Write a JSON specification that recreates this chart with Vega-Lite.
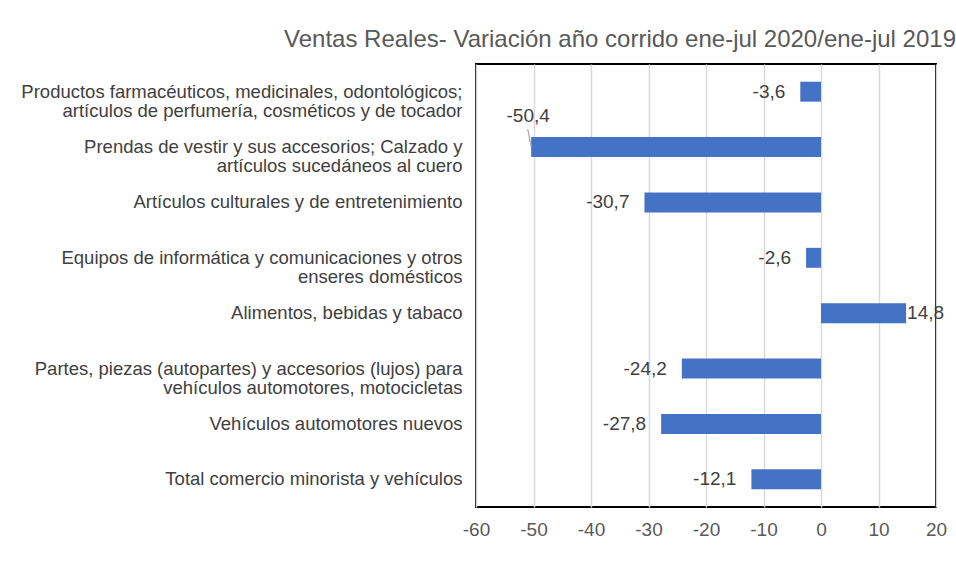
{
  "$schema": "https://vega.github.io/schema/vega-lite/v6.json",
  "width": 460,
  "height": 443,
  "autosize": {"type": "none"},
  "padding": {"left": 476, "top": 64, "right": 20, "bottom": 69},
  "background": "white",
  "title": {
    "text": "Ventas Reales- Variación año corrido ene-jul 2020/ene-jul 2019",
    "anchor": "start",
    "frame": "group",
    "dx": -192,
    "offset": 12,
    "font": "Liberation Sans",
    "fontSize": 24,
    "fontWeight": "normal",
    "color": "#595959"
  },
  "config": {
    "locale": {"number": {"decimal": ",", "thousands": ".", "grouping": [3], "currency": ["", ""], "minus": "-"}},
    "view": {"stroke": "#000000", "strokeWidth": 2},
    "font": "Liberation Sans"
  },
  "data": {
    "values": [
      {"cat": "Productos farmacéuticos, medicinales, odontológicos;|artículos de perfumería, cosméticos y de tocador", "value": -3.6},
      {"cat": "Prendas de vestir y sus accesorios; Calzado y|artículos sucedáneos al cuero", "value": -50.4},
      {"cat": "Artículos culturales y de entretenimiento", "value": -30.7},
      {"cat": "Equipos de informática y comunicaciones  y otros|enseres domésticos", "value": -2.6},
      {"cat": "Alimentos, bebidas y tabaco", "value": 14.8},
      {"cat": "Partes, piezas (autopartes) y accesorios (lujos) para|vehículos automotores, motocicletas", "value": -24.2},
      {"cat": "Vehículos automotores nuevos", "value": -27.8},
      {"cat": "Total comercio minorista y vehículos", "value": -12.1}
    ]
  },
  "encoding": {
    "y": {
      "field": "cat",
      "type": "nominal",
      "sort": null,
      "scale": {"paddingInner": 0.64, "paddingOuter": 0.32},
      "axis": {
        "title": null,
        "ticks": false,
        "domain": false,
        "labelExpr": "split(datum.label, '|')",
        "labelFontSize": 18.5,
        "labelLineHeight": 19,
        "labelColor": "#404040",
        "labelPadding": 14,
        "labelLimit": 480
      }
    },
    "x": {
      "field": "value",
      "type": "quantitative",
      "scale": {"domain": [-60, 20], "nice": false},
      "axis": {
        "title": null,
        "values": [-60, -50, -40, -30, -20, -10, 0, 10, 20],
        "ticks": false,
        "domain": false,
        "grid": true,
        "gridColor": "#d9d9d9",
        "gridWidth": 1.5,
        "labelFlush": false,
        "labelFontSize": 19,
        "labelColor": "#595959",
        "labelPadding": 13
      }
    }
  },
  "layer": [
    {"mark": {"type": "bar", "color": "#4472C4"}},
    {
      "transform": [{"filter": "datum.value <= -50"}],
      "mark": {"type": "rule", "color": "#a6a6a6", "strokeWidth": 1.2},
      "encoding": {
        "x": {"datum": -51.0, "type": "quantitative"},
        "x2": {"field": "value"},
        "y": {"field": "cat", "type": "nominal", "sort": null, "bandPosition": -0.4},
        "y2": {"field": "cat", "bandPosition": 0.5}
      }
    },
    {
      "transform": [{"filter": "datum.value < 0 && datum.value > -50"}],
      "mark": {"type": "text", "align": "right", "baseline": "middle", "dx": -15, "fontSize": 19, "color": "#404040"},
      "encoding": {"text": {"field": "value", "type": "quantitative", "format": ".1f"}}
    },
    {
      "transform": [{"filter": "datum.value <= -50"}],
      "mark": {"type": "text", "align": "center", "baseline": "middle", "dx": -3, "dy": -31, "fontSize": 19, "color": "#404040"},
      "encoding": {"text": {"field": "value", "type": "quantitative", "format": ".1f"}}
    },
    {
      "transform": [{"filter": "datum.value > 0"}],
      "mark": {"type": "text", "align": "left", "baseline": "middle", "dx": 1, "fontSize": 19, "color": "#404040"},
      "encoding": {"text": {"field": "value", "type": "quantitative", "format": ".1f"}}
    }
  ]
}
